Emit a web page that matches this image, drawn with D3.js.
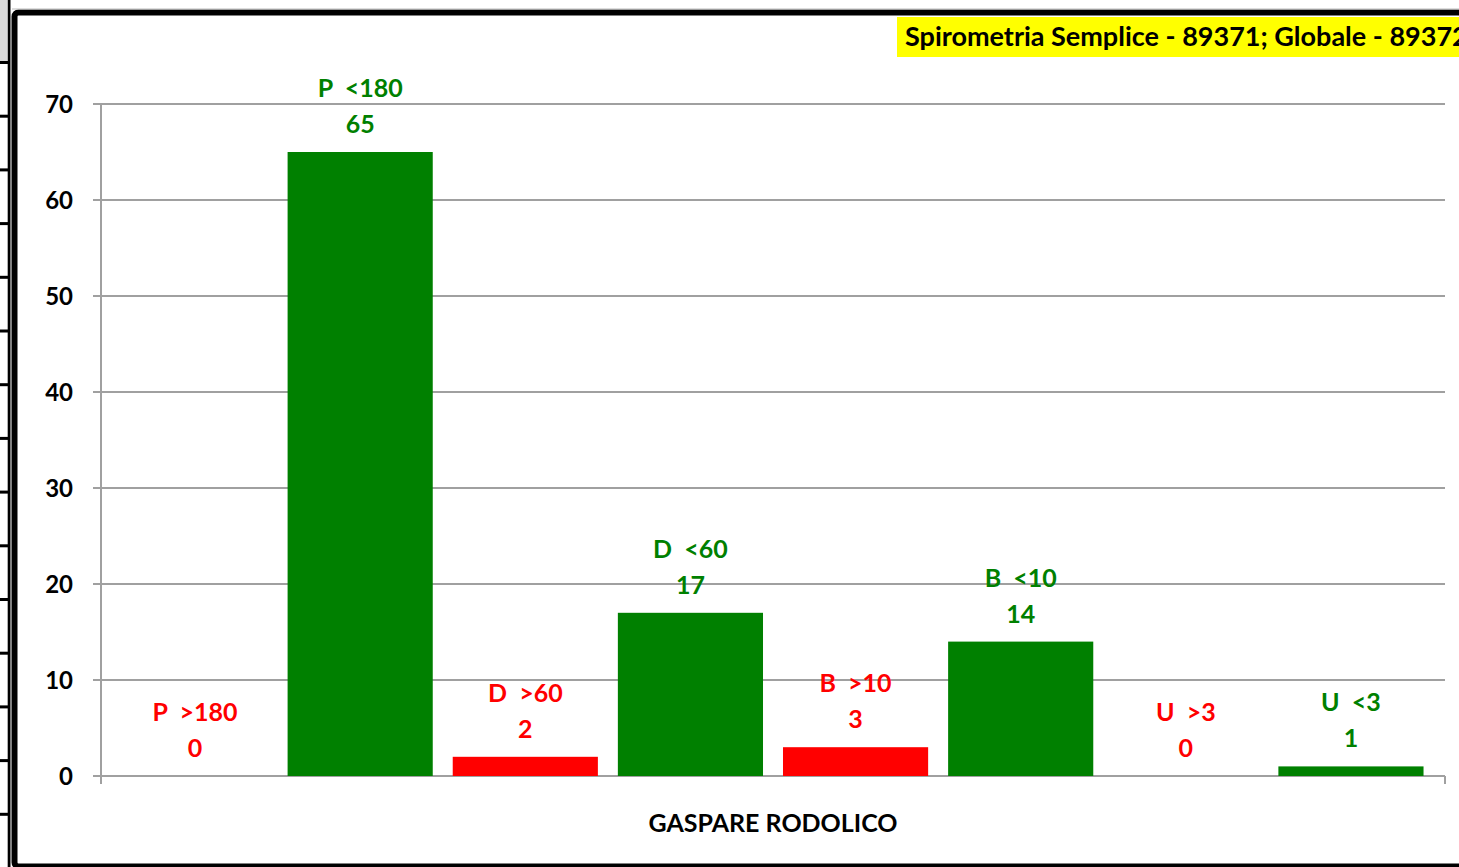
<!DOCTYPE html>
<html>
<head>
<meta charset="utf-8">
<script src="https://cdn.jsdelivr.net/npm/d3@7"></script>
<style>
  html, body { margin: 0; padding: 0; background: #fff; overflow: hidden; }
  svg { display: block; }
  text { font-family: Lato, "Open Sans", sans-serif; font-weight: 700; white-space: pre; }
</style>
</head>
<body>
<svg id="chart" width="1459" height="867"></svg>
<script>
// Spirometry thresholds for one patient: name of each band and its count
const seriesNames = ["P  >180", "P  <180", "D  >60", "D  <60", "B  >10", "B  <10", "U  >3", "U  <3"];
const seriesValues = [0, 65, 2, 17, 3, 14, 0, 1];
const seriesColors = ["#ff0000", "#008000", "#ff0000", "#008000", "#ff0000", "#008000", "#ff0000", "#008000"];
const category = "GASPARE RODOLICO";
const yTicks = [0, 10, 20, 30, 40, 50, 60, 70];
const titleText = "Spirometria Semplice - 89371; Globale - 89372";

const svg = d3.select("#chart");
const W = 1459, H = 867;

// worksheet strip to the left of the chart object
const bg = svg.append("g");
const rowH = 53.7;
bg.append("rect").attr("x", 0).attr("y", 0).attr("width", 8).attr("height", 62).attr("fill", "#d9d9d9");
bg.append("rect").attr("x", 7).attr("y", 0).attr("width", 1).attr("height", H).attr("fill", "#b0b0b0");
d3.range(62, H, rowH).forEach(yy => {
  bg.append("rect").attr("x", 0).attr("y", yy - 1).attr("width", 8).attr("height", 3).attr("fill", "#000");
});
bg.append("rect").attr("x", 8).attr("y", 0).attr("width", 2.5).attr("height", H).attr("fill", "#000");

// chart object frame
svg.append("rect")
  .attr("x", 14.5).attr("y", 12.5)
  .attr("width", 1500).attr("height", 854)
  .attr("rx", 4)
  .attr("fill", "#fff").attr("stroke", "#000").attr("stroke-width", 6);
svg.append("line").attr("x1", 12).attr("x2", W).attr("y1", 9).attr("y2", 9)
  .attr("stroke", "#bbb").attr("stroke-width", 1);

// plot area
const plotLeft = 101, plotRight = 1445, plotTop = 104, plotBottom = 776;

const y = d3.scaleLinear().domain([0, 70]).range([plotBottom, plotTop]);
const x = d3.scaleBand()
  .domain(seriesNames)
  .range([plotLeft, plotRight])
  .paddingInner(0.121)
  .paddingOuter(0.13);

const gridColor = "#a0a0a0";

// horizontal gridlines with outward ticks
svg.append("g").selectAll("line").data(yTicks).join("line")
  .attr("x1", plotLeft - 8).attr("x2", plotRight)
  .attr("y1", d => y(d)).attr("y2", d => y(d))
  .attr("stroke", gridColor).attr("stroke-width", 2);

// y axis line
svg.append("line").attr("x1", plotLeft).attr("x2", plotLeft)
  .attr("y1", plotTop).attr("y2", plotBottom + 8)
  .attr("stroke", gridColor).attr("stroke-width", 2);
// right end tick of the category axis
svg.append("line").attr("x1", plotRight).attr("x2", plotRight)
  .attr("y1", plotBottom).attr("y2", plotBottom + 8)
  .attr("stroke", gridColor).attr("stroke-width", 2);

// y tick labels
svg.append("g").selectAll("text").data(yTicks).join("text")
  .attr("x", 73).attr("y", d => y(d))
  .attr("dy", "0.36em")
  .attr("text-anchor", "end")
  .attr("font-size", 24)
  .attr("fill", "#000")
  .text(d => d);

// bars
const data = seriesNames.map((n, i) => ({ name: n, value: seriesValues[i], color: seriesColors[i] }));
svg.append("g").selectAll("rect").data(data).join("rect")
  .attr("x", d => x(d.name))
  .attr("width", x.bandwidth())
  .attr("y", d => y(d.value))
  .attr("height", d => y(0) - y(d.value))
  .attr("fill", d => d.color);

// two-line data labels: series name, then value
const labels = svg.append("g").selectAll("g").data(data).join("g")
  .attr("transform", d => `translate(${x(d.name) + x.bandwidth() / 2},${y(d.value)})`)
  .attr("fill", d => d.color)
  .attr("text-anchor", "middle")
  .attr("font-size", 25);
labels.append("text").attr("y", -64).attr("dy", "0.36em").text(d => d.name);
labels.append("text").attr("y", -28).attr("dy", "0.36em").text(d => d.value);

// category axis title
svg.append("text")
  .attr("x", (plotLeft + plotRight) / 2).attr("y", 823)
  .attr("dy", "0.36em")
  .attr("text-anchor", "middle")
  .attr("font-size", 25)
  .attr("fill", "#000")
  .text(category);

// chart title on yellow band, running past the right edge of the chart object
svg.append("rect").attr("x", 897).attr("y", 17).attr("width", 600).attr("height", 40).attr("fill", "#ffff00");
svg.append("text")
  .attr("x", 905).attr("y", 36)
  .attr("dy", "0.36em")
  .attr("font-size", 27)
  .attr("fill", "#000")
  .text(titleText);
</script>
</body>
</html>
